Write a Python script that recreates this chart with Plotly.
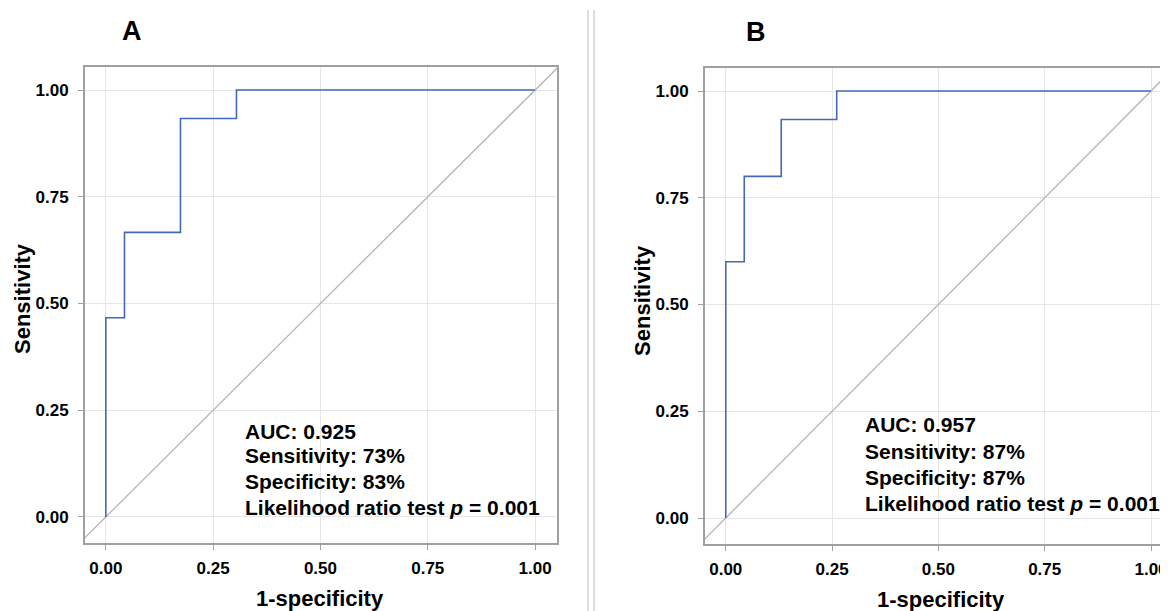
import plotly.graph_objects as go

# ROC step data (1-specificity, sensitivity)
a_fpr = [0.0, 0.0, 1/23, 1/23, 4/23, 4/23, 7/23, 7/23, 1.0]
a_tpr = [0.0, 7/15, 7/15, 10/15, 10/15, 14/15, 14/15, 1.0, 1.0]
b_fpr = [0.0, 0.0, 1/23, 1/23, 3/23, 3/23, 6/23, 6/23, 1.0]
b_tpr = [0.0, 9/15, 9/15, 12/15, 12/15, 14/15, 14/15, 1.0, 1.0]
diag = [-0.2, 1.2]  # reference line y = x, clipped by the axes
tick_vals = [0.0, 0.25, 0.5, 0.75, 1.0]
tick_text = ["0.00", "0.25", "0.50", "0.75", "1.00"]
panel_labels = ["A", "B"]
a_stats = ["AUC: 0.925", "Sensitivity: 73%", "Specificity: 83%", "Likelihood ratio test <i>p</i> = 0.001"]
b_stats = ["AUC: 0.957", "Sensitivity: 87%", "Specificity: 87%", "Likelihood ratio test <i>p</i> = 0.001"]

OFF = 8  # page body margin
W, H = 1168 - OFF, 611 - OFF
FONT = "Liberation Sans, Arial, sans-serif"
ROC_COLOR = "#4468b8"
DIAG_COLOR = "#b4b4b4"
FRAME = "#a0a0a0"
GRID = "#e6e6e6"

fig = go.Figure()
for i, (fx, ty) in enumerate([(a_fpr, a_tpr), (b_fpr, b_tpr)]):
    xa = "x" if i == 0 else "x2"
    ya = "y" if i == 0 else "y2"
    fig.add_trace(go.Scatter(x=diag, y=diag, mode="lines", xaxis=xa, yaxis=ya,
                             line=dict(color=DIAG_COLOR, width=1.3), showlegend=False, hoverinfo="skip"))
    fig.add_trace(go.Scatter(x=fx, y=ty, mode="lines", xaxis=xa, yaxis=ya,
                             line=dict(color=ROC_COLOR, width=1.6), showlegend=False))


def px_x(p):
    return (p - OFF) / W


def px_y(p):
    return 1 - (p - OFF) / H


axis_common = dict(tickvals=tick_vals, ticktext=tick_text, ticks="outside", ticklen=5, tickcolor=FRAME,
                   showgrid=True, gridcolor=GRID, gridwidth=1, zeroline=False,
                   showline=True, linecolor=FRAME, linewidth=1.5,
                   tickfont=dict(family=FONT, size=17, color="black", weight="bold"))
xcommon = dict(ticklabelstandoff=4, ticklabeloverflow="allow", **axis_common)
ycommon = dict(ticklabelstandoff=6, **axis_common)

fig.update_layout(
    width=W, height=H, margin=dict(l=0, r=0, t=0, b=0),
    paper_bgcolor="white", plot_bgcolor="white",
    xaxis=dict(domain=[px_x(85), px_x(558)], range=[-0.0488, 1.0512], anchor="y", mirror=True, **xcommon),
    yaxis=dict(domain=[px_y(543), px_y(67)], range=[-0.061, 1.054], anchor="x", mirror=True, **ycommon),
    xaxis2=dict(domain=[px_x(706), 1.0], range=[-0.0493, 1.0352], anchor="y2", mirror=True, **xcommon),
    yaxis2=dict(domain=[px_y(544), px_y(68)], range=[-0.0609, 1.0539], anchor="x2", mirror=False, **ycommon),
)

annots = []
title_font = dict(family=FONT, size=22, color="black", weight="bold")
# axis titles
for cx, cy_sens, cx_title, cy_title in [(22, 298, 321, 598), (643, 300, 943, 599)]:
    annots.append(dict(text="Sensitivity", x=px_x(cx), y=px_y(cy_sens), xref="paper", yref="paper",
                       textangle=-90, showarrow=False, font=title_font, xanchor="center", yanchor="middle"))
    annots.append(dict(text="1-specificity", x=px_x(cx_title), y=px_y(cy_title), xref="paper", yref="paper",
                       showarrow=False, font=title_font, xanchor="center", yanchor="middle"))
# panel labels
for lab, (lx, ly) in zip(panel_labels, [(132, 31), (757, 32)]):
    annots.append(dict(text=lab, x=px_x(lx), y=px_y(ly), xref="paper", yref="paper", showarrow=False,
                       font=dict(family=FONT, size=27, color="black", weight="bold"),
                       xanchor="center", yanchor="middle"))
# stats text
for stats, xr, yr, x0, ys in [(a_stats, "x", "y", 0.320, [0.201, 0.143, 0.084, 0.023]),
                              (b_stats, "x2", "y2", 0.323, [0.218, 0.156, 0.096, 0.035])]:
    for s, yy in zip(stats, ys):
        annots.append(dict(text=s, x=x0, y=yy, xref=xr, yref=yr, showarrow=False, xanchor="left",
                           yanchor="middle", font=dict(family=FONT, size=21, color="black", weight="bold")))
fig.update_layout(annotations=annots)

# separator double line
for sx in [589, 595]:
    fig.add_shape(type="line", xref="paper", yref="paper", x0=px_x(sx), x1=px_x(sx), y0=0, y1=px_y(10),
                  line=dict(color="#c8c8c8", width=1.2))

fig.write_html("out.html")
